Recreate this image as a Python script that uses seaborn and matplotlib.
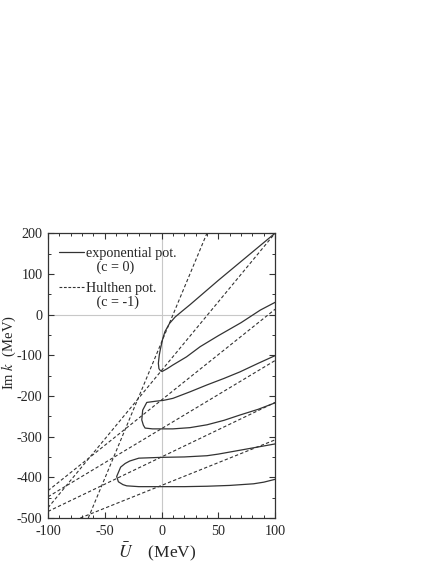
import matplotlib
matplotlib.use("Agg")
import matplotlib.pyplot as plt
import seaborn as sns
from matplotlib.ticker import MultipleLocator
from matplotlib.lines import Line2D

# exponential potential (c = 0): pole trajectories, traced point by point
exp1_u = [100, 75, 50, 35, 25, 18, 12, 7, 3, 1, -1, -2, -2.8, -2.3, -1, 0.5, 5, 10, 22, 34, 50, 70, 87, 100]
exp1_k = [200, 142, 84, 48, 24, 8, -6, -22, -42, -60, -85, -100, -120, -133, -138, -140, -133, -124, -104, -79, -52, -20, 11, 30]

exp2_u = [100, 85, 69, 55, 40, 25, 10, 5, 1.5, -5, -13, -16.6, -17.4, -16, -14.5, -8, -1.3, 10, 25, 40, 55, 69, 85, 100]
exp2_k = [-101, -120, -141, -157, -173, -190, -206, -209, -211, -213, -216, -235, -259, -272, -279, -281, -281, -281, -278, -271, -260, -247, -233, -217]

exp3_u = [100, 80, 60, 50, 40, 20, 0, -20, -28, -32, -36, -39.5, -38, -34, -30.7, -20, 0, 20, 40, 60, 81, 90, 100]
exp3_k = [-318, -328, -338, -343, -347, -350, -351, -353, -360, -366, -375, -398, -411, -418, -421, -423, -423, -423, -422, -420, -416, -412, -405]

exp_u = [exp1_u, exp2_u, exp3_u]
exp_k = [exp1_k, exp2_k, exp3_k]

# Hulthen potential (c = -1): straight lines, end points
hul_u = [[-64.5, 40], [-100, 100], [-100, 100], [-100, 100], [-100, 100], [-71.5, 100]]
hul_k = [[-500, 200], [-475, 200], [-433, 13], [-448, -113], [-484, -216], [-500, -308]]

sns.set_style("ticks")
plt.rcParams['font.family'] = ['Liberation Serif', 'DejaVu Serif']
plt.rcParams['mathtext.fontset'] = 'stix'
plt.rcParams['axes.unicode_minus'] = False

fig = plt.figure(figsize=(4.36, 5.64), dpi=100)
ax = fig.add_axes([0.110, 0.0816, 0.521, 0.505])

ax.axvline(0, color='#c8c8c8', lw=0.8, zorder=0)
ax.axhline(0, color='#c8c8c8', lw=0.8, zorder=0)

line_col = '#333333'
dash = (0, (3, 2))
for u, k in zip(exp_u, exp_k):
    sns.lineplot(x=u, y=k, sort=False, estimator=None, color=line_col, lw=0.9, ax=ax)
for u, k in zip(hul_u, hul_k):
    sns.lineplot(x=u, y=k, sort=False, estimator=None, color=line_col, lw=0.8, ls=dash, ax=ax)

ax.set_xlim(-100, 100)
ax.set_ylim(-500, 200)
ax.xaxis.set_major_locator(MultipleLocator(50))
ax.xaxis.set_minor_locator(MultipleLocator(10))
ax.yaxis.set_major_locator(MultipleLocator(100))
ax.yaxis.set_minor_locator(MultipleLocator(50))
ax.tick_params(which='both', direction='in', top=True, right=True, labelsize=10.2, color=line_col)
ax.tick_params(which='major', length=4.5, width=0.8)
ax.tick_params(which='minor', length=2.5, width=0.7)
ax.tick_params(axis='y', pad=4)
ax.tick_params(axis='x', pad=5)
for s in ax.spines.values():
    s.set_linewidth(0.9)
    s.set_color(line_col)

ax.set_xlabel(r'$\bar{U}$    (MeV)', fontsize=12.5)
ax.set_ylabel(r'Im $k$  (MeV)', fontsize=10.5)
ax.xaxis.set_label_coords(0.482, -0.08)
ax.yaxis.set_label_coords(-0.134, 0.582)

# legend: two small blocks so each note sits right under its entry
blank = Line2D([], [], color='none')
leg_kw = dict(loc='upper left', frameon=False, fontsize=10.2, handlelength=1.8,
              handletextpad=0.15, labelspacing=0.0, borderpad=0, borderaxespad=0)
leg1 = ax.legend([Line2D([], [], color=line_col, lw=0.9), blank],
                 ['exponential pot.', '   (c = 0)'],
                 bbox_to_anchor=(0.048, 0.95), **leg_kw)
ax.add_artist(leg1)
ax.legend([Line2D([], [], color=line_col, lw=0.8, ls=(0, (2.5, 1.5))), blank],
          ['Hulthen pot.', '   (c = -1)'],
          bbox_to_anchor=(0.048, 0.828), **leg_kw)

fig.savefig("out.png", dpi=100)
